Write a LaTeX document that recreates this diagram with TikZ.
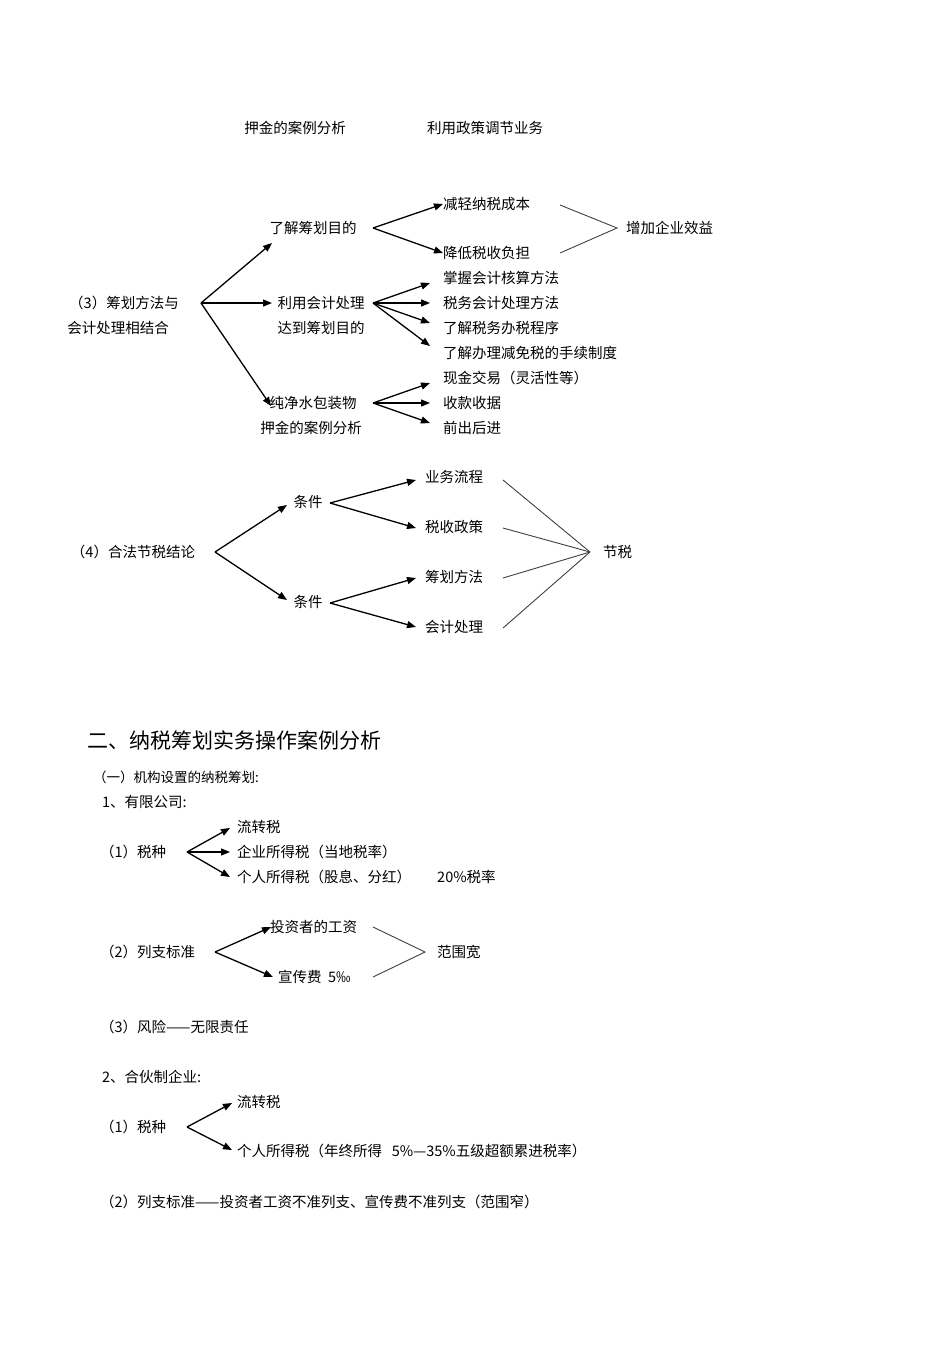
\documentclass[tikz,border=0pt]{standalone}
\usepackage{fontspec}
\setmainfont{Noto Sans CJK SC}
\usetikzlibrary{arrows.meta}
\begin{document}
\begin{tikzpicture}[x=1pt,y=-1pt,
  every node/.style={font=\fontsize{14.5}{17}\selectfont,inner sep=0pt},
  lt/.style={anchor=west},
  arr/.style={-{Triangle[length=9pt,width=7pt]},line width=1.3pt},
  brk/.style={line width=0.9pt,black!75}]
\useasboundingbox (0,0) rectangle (950,1345);
% top
\node (t1) at (295,128) {押金的案例分析};
\node (t2) at (485,128) {利用政策调节业务};
% (3)
\node (r3a) at (124,303) {（3）筹划方法与};
\node (r3b) at (118,328) {会计处理相结合};
\coordinate (s3) at (201,303);
\node (a1) at (313,228) {了解筹划目的};
\node (a2) at (321,303) {利用会计处理};
\node (a2b) at (321,328) {达到筹划目的};
\node (a3) at (313,403) {纯净水包装物};
\node (a3b) at (311,428) {押金的案例分析};
\draw[arr] (s3) -- (272,243);
\draw[arr] (s3) -- (272,303);
\draw[arr] (s3) -- (271,406);
\node[lt] (b1) at (443,204) {减轻纳税成本};
\node[lt] (b2) at (443,253) {降低税收负担};
\node[lt] (b3) at (626,228) {增加企业效益};
\coordinate (s31) at (373,228);
\draw[arr] (s31) -- (b1.west);
\draw[arr] (s31) -- (b2.west);
\coordinate (k1) at (617,228);
\draw[brk] (560,205) -- (k1) -- (560,253);
\node[lt] (c1) at (443,278) {掌握会计核算方法};
\node[lt] (c2) at (443,303) {税务会计处理方法};
\node[lt] (c3) at (443,328) {了解税务办税程序};
\node[lt] (c4) at (443,353) {了解办理减免税的手续制度};
\coordinate (s32) at (373,303);
\draw[arr] (s32) -- (430,283);
\draw[arr] (s32) -- (430,303);
\draw[arr] (s32) -- (430,323);
\draw[arr] (s32) -- (430,346);
\node[lt] (d1) at (443,378) {现金交易（灵活性等）};
\node[lt] (d2) at (443,403) {收款收据};
\node[lt] (d3) at (443,428) {前出后进};
\coordinate (s33) at (373,403);
\draw[arr] (s33) -- (430,383);
\draw[arr] (s33) -- (430,403);
\draw[arr] (s33) -- (430,423);
% (4)
\node (r4) at (133,552) {（4）合法节税结论};
\coordinate (s4) at (215,552);
\node (e1) at (308,502) {条件};
\node (e2) at (308,602) {条件};
\draw[arr] (s4) -- (287,505);
\draw[arr] (s4) -- (287,600);
\node[lt] (f1) at (425,477) {业务流程};
\node[lt] (f2) at (425,527) {税收政策};
\node[lt] (f3) at (425,577) {筹划方法};
\node[lt] (f4) at (425,627) {会计处理};
\coordinate (s41) at (330,503);
\coordinate (s42) at (330,603);
\draw[arr] (s41) -- (416,480);
\draw[arr] (s41) -- (416,528);
\draw[arr] (s42) -- (416,578);
\draw[arr] (s42) -- (416,627);
\node[lt] (g) at (603,552) {节税};
\coordinate (k2) at (590,552);
\foreach \yy in {480,528,578,628} \draw[brk] (503,\yy) -- (k2);
% section 2
\node[lt,font=\fontsize{21}{25}\selectfont] (h) at (87,740) {二、纳税筹划实务操作案例分析};
\node[lt,font=\fontsize{13.5}{16}\selectfont] (h1) at (93,777) {（一）机构设置的纳税筹划:};
\node[lt] (h2) at (102,802) {1、有限公司:};
\node[lt] (p1) at (100,852) {（1）税种};
\coordinate (sp1) at (187,852);
\node[lt] (q1) at (237,827) {流转税};
\node[lt] (q2) at (237,852) {企业所得税（当地税率）};
\node[lt] (q3) at (237,877) {个人所得税（股息、分红）};
\node[lt] (q4) at (437,877) {20\%税率};
\draw[arr] (sp1) -- (230,828);
\draw[arr] (sp1) -- (230,852);
\draw[arr] (sp1) -- (230,877);
\node[lt] (p2) at (100,952) {（2）列支标准};
\coordinate (sp2) at (215,952);
\node[lt] (q5) at (270,927) {投资者的工资};
\node[lt] (q6) at (278,977) {宣传费\ \ 5‰};
\draw[arr] (sp2) -- (271,927);
\draw[arr] (sp2) -- (273,977);
\coordinate (k3) at (425,952);
\draw[brk] (373,927) -- (k3) -- (373,977);
\node[lt] (q7) at (437,952) {范围宽};
\node[lt] (p3) at (100,1027) {（3）风险——无限责任};
\node[lt] (h3) at (102,1077) {2、合伙制企业:};
\node[lt] (p4) at (100,1127) {（1）税种};
\coordinate (sp4) at (187,1127);
\node[lt] (q8) at (237,1102) {流转税};
\node[lt] (q9) at (237,1151) {个人所得税（年终所得\ \ \ 5\%—35\%五级超额累进税率）};
\draw[arr] (sp4) -- (232,1103);
\draw[arr] (sp4) -- (232,1150);
\node[lt] (p5) at (100,1202) {（2）列支标准——投资者工资不准列支、宣传费不准列支（范围窄）};
\end{tikzpicture}
\end{document}
